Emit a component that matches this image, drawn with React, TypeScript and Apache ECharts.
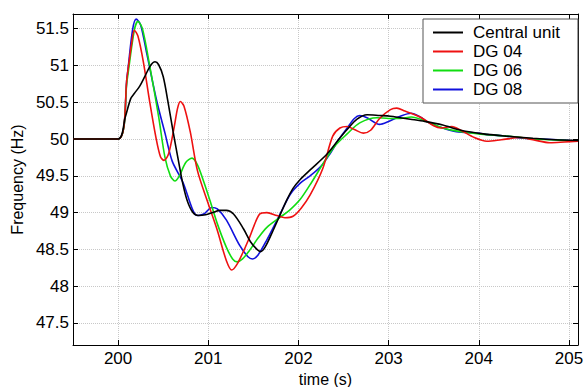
import React, { useEffect, useRef } from "react";
import * as echarts from "echarts";

const seriesNames = ["Central unit", "DG 04", "DG 06", "DG 08"];
const seriesColors = ["#000000", "#ee1111", "#11dd11", "#1111dd"];

const centralUnit: [number, number][] = [
  [199.5, 50], [200, 50], [200.08, 50.3], [200.14, 50.55], [200.18, 50.62], [200.24, 50.72],
  [200.3, 50.86], [200.36, 51.0], [200.41, 51.05], [200.45, 51.01], [200.5, 50.85],
  [200.55, 50.53], [200.61, 50.1], [200.67, 49.7], [200.72, 49.38], [200.77, 49.15],
  [200.83, 49.0], [200.89, 48.96], [200.97, 48.97], [201.05, 49.0], [201.13, 49.03],
  [201.2, 49.03], [201.28, 48.98], [201.39, 48.78], [201.47, 48.6], [201.54, 48.5],
  [201.58, 48.47], [201.63, 48.53], [201.72, 48.76], [201.8, 48.98], [201.87, 49.17],
  [201.94, 49.33], [202.02, 49.45], [202.13, 49.58], [202.32, 49.8], [202.45, 50.0],
  [202.54, 50.13], [202.65, 50.27], [202.76, 50.33], [202.9, 50.32], [203.02, 50.31],
  [203.13, 50.29], [203.24, 50.27], [203.4, 50.24], [203.6, 50.19], [203.8, 50.12],
  [204.05, 50.07], [204.3, 50.04], [204.6, 50.01], [204.85, 49.99], [205.1, 49.98],
];

const dg04: [number, number][] = [
  [199.5, 50], [200, 50], [200.1, 50.85], [200.15, 51.3], [200.18, 51.48], [200.22, 51.4],
  [200.28, 51.05], [200.35, 50.51], [200.42, 50.02], [200.47, 49.76], [200.51, 49.71],
  [200.56, 49.8], [200.62, 50.15], [200.66, 50.42], [200.69, 50.51], [200.73, 50.45],
  [200.8, 50.1], [200.88, 49.57], [201.0, 49.12], [201.1, 48.76], [201.2, 48.35],
  [201.26, 48.22], [201.32, 48.3], [201.4, 48.5], [201.46, 48.67], [201.57, 48.98],
  [201.65, 49.0], [201.76, 48.96], [201.85, 48.93], [201.94, 48.95], [202.03, 49.06],
  [202.13, 49.24], [202.27, 49.6], [202.38, 50.04], [202.46, 50.15], [202.54, 50.17],
  [202.62, 50.13], [202.72, 50.08], [202.8, 50.12], [202.9, 50.28], [203.02, 50.4],
  [203.09, 50.42], [203.18, 50.38], [203.35, 50.3], [203.5, 50.18], [203.58, 50.15],
  [203.7, 50.17], [203.8, 50.12], [203.95, 50.02], [204.09, 49.97], [204.25, 49.99],
  [204.46, 50.02], [204.6, 49.99], [204.79, 49.95], [204.95, 49.96], [205.1, 49.97],
];

const dg06: [number, number][] = [
  [199.5, 50], [200, 50], [200.1, 50.8], [200.18, 51.48], [200.22, 51.6], [200.27, 51.5],
  [200.35, 51.0], [200.45, 50.3], [200.52, 49.75], [200.58, 49.5], [200.63, 49.43],
  [200.68, 49.5], [200.75, 49.68], [200.82, 49.74], [200.88, 49.65], [200.95, 49.42],
  [201.02, 49.16], [201.1, 48.85], [201.2, 48.53], [201.27, 48.37], [201.32, 48.33],
  [201.38, 48.37], [201.46, 48.49], [201.55, 48.65], [201.65, 48.8], [201.8, 48.94],
  [201.9, 49.03], [202.02, 49.18], [202.15, 49.42], [202.28, 49.68], [202.4, 49.9],
  [202.54, 50.07], [202.68, 50.22], [202.87, 50.29], [203.0, 50.28], [203.13, 50.28],
  [203.25, 50.3], [203.4, 50.25], [203.6, 50.15], [203.8, 50.1], [204.0, 50.07],
  [204.2, 50.05], [204.4, 50.03], [204.6, 50.0], [204.8, 49.99], [205.1, 49.97],
];

const dg08: [number, number][] = [
  [199.5, 50], [200, 50], [200.1, 50.85], [200.16, 51.48], [200.2, 51.63], [200.25, 51.55],
  [200.32, 51.15], [200.43, 50.51], [200.52, 50.08], [200.6, 49.7], [200.72, 49.41],
  [200.83, 49.03], [200.88, 48.96], [200.95, 48.98], [201.04, 49.07], [201.1, 49.05],
  [201.2, 48.9], [201.35, 48.55], [201.44, 48.4], [201.49, 48.37], [201.55, 48.42],
  [201.65, 48.63], [201.8, 48.99], [201.91, 49.25], [202.02, 49.4], [202.13, 49.5],
  [202.25, 49.63], [202.35, 49.8], [202.45, 50.0], [202.54, 50.15], [202.62, 50.28],
  [202.68, 50.32], [202.76, 50.29], [202.9, 50.2], [203.0, 50.24], [203.13, 50.31],
  [203.25, 50.35], [203.35, 50.3], [203.45, 50.22], [203.6, 50.15], [203.75, 50.1],
  [203.98, 50.08], [204.1, 50.06], [204.31, 50.04], [204.5, 50.01], [204.71, 50.0],
  [204.9, 49.99], [205.1, 49.97],
];

const seriesData = [centralUnit, dg04, dg06, dg08];

const xRange = [199.5, 205.1];
const yRange = [47.2, 51.7];

const FONT = "Arial, 'Liberation Sans', Helvetica, sans-serif";

export default function App() {
  const ref = useRef<HTMLDivElement>(null);
  useEffect(() => {
    if (!ref.current) return;
    const chart = echarts.init(ref.current, null, { renderer: "svg" });
    const axisLine = { show: true, lineStyle: { color: "#000", width: 1 } };
    const tick = { show: true, inside: true, length: 5, lineStyle: { color: "#000" } };
    chart.setOption({
      animation: false,
      backgroundColor: "#fff",
      grid: { left: 73, right: 9, top: 14, bottom: 42, containLabel: false, outerBoundsMode: "none" },
      legend: {
        orient: "vertical",
        left: 423,
        top: 19,
        padding: [5, 18, 5, 10],
        itemWidth: 30,
        itemHeight: 14,
        itemGap: 2,
        icon: "path://M0,0 L30,0 L30,2 L0,2 Z",
        backgroundColor: "#fff",
        borderColor: "#555",
        borderWidth: 1,
        borderRadius: 0,
        textStyle: { fontFamily: FONT, fontSize: 17, color: "#000", padding: [0, 0, 0, 5] },
        data: seriesNames,
      },
      xAxis: [
        {
          type: "value",
          min: xRange[0],
          max: xRange[1],
          splitNumber: 5,
          name: "time (s)",
          nameLocation: "middle",
          nameGap: 24,
          nameTextStyle: { fontFamily: FONT, fontSize: 16, color: "#000" },
          axisLine,
          axisTick: tick,
          axisLabel: {
            fontFamily: FONT,
            fontSize: 17,
            color: "#000",
            margin: 5,
            showMinLabel: false,
            showMaxLabel: false,
          },
          splitLine: { show: true, lineStyle: { color: "#c8c8c8", type: "dotted", width: 1 } },
        },
        {
          type: "value",
          position: "top",
          min: xRange[0],
          max: xRange[1],
          splitNumber: 5,
          axisLine,
          axisTick: tick,
          axisLabel: { show: false },
          splitLine: { show: false },
        },
      ],
      yAxis: [
        {
          type: "value",
          min: yRange[0],
          max: yRange[1],
          splitNumber: 9,
          name: "Frequency (Hz)",
          nameLocation: "middle",
          nameGap: 46,
          nameTextStyle: { fontFamily: FONT, fontSize: 16, color: "#000" },
          axisLine,
          axisTick: tick,
          axisLabel: {
            fontFamily: FONT,
            fontSize: 17,
            color: "#000",
            margin: 4,
            showMinLabel: false,
            showMaxLabel: false,
          },
          splitLine: { show: true, lineStyle: { color: "#c8c8c8", type: "dotted", width: 1 } },
        },
        {
          type: "value",
          position: "right",
          min: yRange[0],
          max: yRange[1],
          splitNumber: 9,
          axisLine,
          axisTick: tick,
          axisLabel: { show: false },
          splitLine: { show: false },
        },
      ],
      series: seriesNames.map((name, i) => ({
        name,
        type: "line",
        xAxisIndex: 0,
        yAxisIndex: 0,
        data: seriesData[i],
        smooth: 0.3,
        symbol: "none",
        lineStyle: { color: seriesColors[i], width: 1.6 },
        itemStyle: { color: seriesColors[i] },
        z: 10 - i,
      })),
    });
    return () => chart.dispose();
  }, []);
  return <div ref={ref} style={{ width: 587, height: 387, position: "absolute", left: 0, top: 0 }} />;
}
